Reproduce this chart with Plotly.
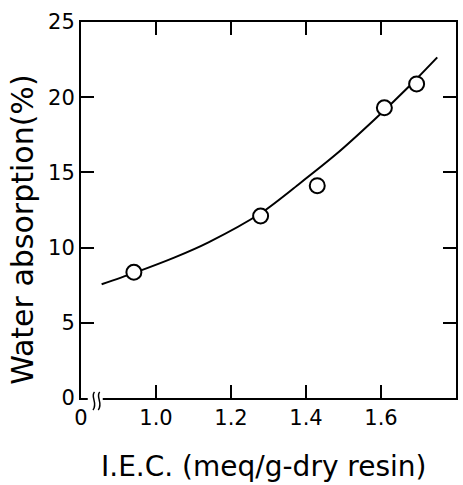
import plotly.graph_objects as go

# measured points
iec = [0.941, 1.279, 1.430, 1.609, 1.695]
water = [8.36, 12.1, 14.12, 19.3, 20.88]

# fitted curve
curve_x = [0.855, 0.94, 1.05, 1.14, 1.28, 1.38, 1.48, 1.58, 1.68, 1.75]
curve_y = [7.56, 8.3, 9.35, 10.35, 12.3, 14.2, 16.2, 18.45, 20.85, 22.65]

x_tickvals = [0.8, 1.0, 1.2, 1.4, 1.6, 1.8]
x_ticktext = ["0", "1.0", "1.2", "1.4", "1.6", "1.8"]
y_tickvals = [0, 5, 10, 15, 20, 25]

x_title = "I.E.C. (meq/g-dry resin)"
y_title = "Water absorption(%)"

FONT = "DejaVu Sans"

fig = go.Figure()
fig.add_trace(go.Scatter(x=curve_x, y=curve_y, mode="lines",
                         line=dict(color="black", width=2, shape="spline", smoothing=0.8),
                         hoverinfo="skip"))
fig.add_trace(go.Scatter(x=iec, y=water, mode="markers",
                         marker=dict(symbol="circle", size=15, color="white",
                                     line=dict(color="black", width=2))))

fig.update_layout(
    width=463, height=485,
    margin=dict(l=81, r=5, t=22, b=87),
    paper_bgcolor="white", plot_bgcolor="white",
    showlegend=False,
    font=dict(family=FONT, color="black", size=20),
    shapes=[
        # gap in the bottom axis (axis break)
        dict(type="rect", xref="paper", yref="paper", x0=0.018, x1=0.058,
             y0=-0.01, y1=0.01, fillcolor="white", line=dict(width=0), layer="above"),
        dict(type="path", xref="paper", yref="paper",
             path="M 0.036,0.016 C 0.024,0.004 0.046,-0.014 0.032,-0.032",
             line=dict(color="black", width=1.5), layer="above"),
        dict(type="path", xref="paper", yref="paper",
             path="M 0.050,0.016 C 0.038,0.004 0.060,-0.014 0.046,-0.032",
             line=dict(color="black", width=1.5), layer="above"),
    ],
    annotations=[
        dict(text=x_title, xref="paper", yref="paper", x=0.487, y=-0.1835,
             xanchor="center", yanchor="middle", showarrow=False,
             font=dict(size=28, family=FONT)),
        dict(text=y_title, xref="paper", yref="paper", x=-0.155, y=0.447,
             xanchor="center", yanchor="middle", showarrow=False, textangle=-90,
             font=dict(size=30, family=FONT)),
    ],
)
fig.update_xaxes(
    range=[0.8, 1.8], tickvals=x_tickvals, ticktext=x_ticktext,
    showgrid=False, zeroline=False,
    showline=True, linecolor="black", linewidth=2, mirror="ticks",
    ticks="inside", ticklen=13, tickwidth=2, tickcolor="black",
    tickfont=dict(size=21, family=FONT),
)
fig.update_yaxes(
    range=[0, 25], tickvals=y_tickvals,
    showgrid=False, zeroline=False,
    showline=True, linecolor="black", linewidth=2, mirror="ticks",
    ticks="inside", ticklen=13, tickwidth=2, tickcolor="black",
    tickfont=dict(size=21, family=FONT),
)

fig.write_html("out.html")
